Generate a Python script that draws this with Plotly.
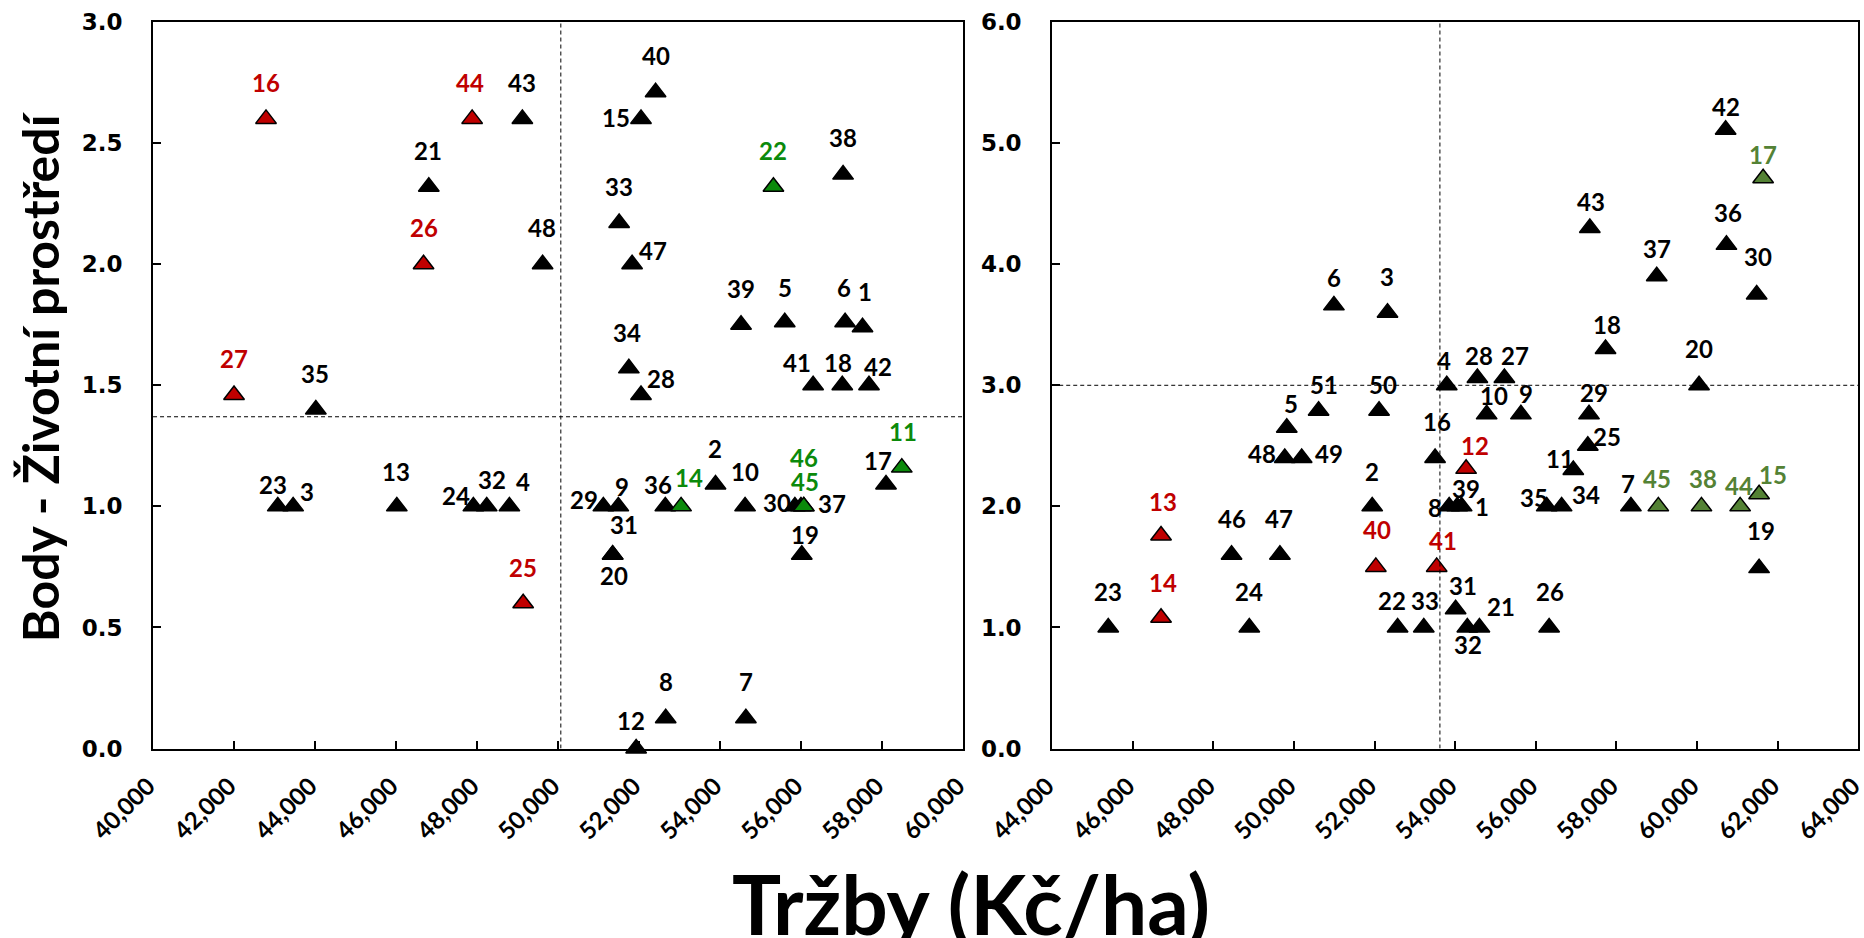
import plotly.graph_objects as go

# ---------------- DATA ----------------
# Left panel: Tržby (Kč/ha) vs Body - Životní prostředí
left_ids = [16, 44, 43, 21, 26, 48, 27, 35, 40, 15, 22, 38, 33, 47, 39, 5, 6, 1, 34, 28, 41, 18, 42,
            23, 3, 13, 24, 32, 4, 25, 29, 9, 31, 20, 36, 14, 2, 10, 30, 37, 45, 46, 19, 17, 11, 8, 7, 12]
left_x = [42790, 47880, 49120, 46810, 46680, 49620, 42000, 44020, 52410, 52050, 55320, 57040, 51510, 51830,
          54520, 55600, 57090, 57520, 51750, 52050, 56300, 57020, 57680,
          43080, 43460, 46020, 47910, 48240, 48800, 49140, 51120, 51490, 51350, 51350, 52650, 53040, 53890,
          54620, 55850, 56000, 56070, 56070, 56020, 58100, 58490, 52660, 54640, 51930]
left_y = [2.60, 2.60, 2.60, 2.32, 2.00, 2.00, 1.46, 1.40, 2.71, 2.60, 2.32, 2.37, 2.17, 2.00,
          1.75, 1.76, 1.76, 1.74, 1.57, 1.46, 1.50, 1.50, 1.50,
          1.00, 1.00, 1.00, 1.00, 1.00, 1.00, 0.60, 1.00, 1.00, 0.80, 0.80, 1.00, 1.00, 1.09,
          1.00, 1.00, 1.00, 1.00, 1.00, 0.80, 1.09, 1.16, 0.125, 0.125, 0.00]
left_group = ["r", "r", "k", "k", "r", "k", "r", "k", "k", "k", "g", "k", "k", "k",
              "k", "k", "k", "k", "k", "k", "k", "k", "k",
              "k", "k", "k", "k", "k", "k", "r", "k", "k", "k", "k", "k", "g", "k",
              "k", "k", "k", "g", "g", "k", "k", "g", "k", "k", "k"]
left_ref_x = 50070
left_ref_y = 1.37

# Right panel
right_ids = [6, 3, 51, 50, 5, 48, 49, 2, 40, 13, 14, 46, 47, 23, 24, 22, 33, 4, 28, 27, 42, 17, 43, 36,
             37, 30, 18, 20, 10, 9, 29, 16, 12, 25, 11, 8, 39, 1, 35, 34, 7, 45, 38, 44, 15, 19, 41,
             31, 32, 21, 26]
right_x = [50990, 52320, 50610, 52110, 49820, 49770, 50190, 51940, 52030, 46700, 46700, 48450, 49650,
           45390, 48890, 52570, 53220, 53790, 54550, 55220, 60710, 61640, 57340, 60730,
           59000, 61480, 57730, 60050, 54780, 55630, 57320, 53500, 54270, 57290, 56930, 53850, 54050,
           54160, 56270, 56640, 58360, 59040, 60110, 61070, 61540, 61540, 53540,
           54010, 54300, 54600, 56330]
right_y = [3.66, 3.60, 2.79, 2.79, 2.65, 2.40, 2.40, 2.00, 1.50, 1.76, 1.08, 1.60, 1.60,
           1.00, 1.00, 1.00, 1.00, 3.00, 3.06, 3.06, 5.11, 4.71, 4.30, 4.16,
           3.90, 3.75, 3.30, 3.00, 2.76, 2.76, 2.76, 2.40, 2.31, 2.50, 2.30, 2.00, 2.00,
           2.00, 2.00, 2.00, 2.00, 2.00, 2.00, 2.00, 2.10, 1.49, 1.50,
           1.15, 1.00, 1.00, 1.00]
right_group = ["k", "k", "k", "k", "k", "k", "k", "k", "r", "r", "r", "k", "k",
               "k", "k", "k", "k", "k", "k", "k", "k", "g", "k", "k",
               "k", "k", "k", "k", "k", "k", "k", "k", "r", "k", "k", "k", "k",
               "k", "k", "k", "k", "g", "g", "g", "g", "k", "r",
               "k", "k", "k", "k"]
right_ref_x = 53620
right_ref_y = 3.0

left_xticks = list(range(40000, 60001, 2000))
right_xticks = list(range(44000, 64001, 2000))
left_yticks = [0, 0.5, 1.0, 1.5, 2.0, 2.5, 3.0]
right_yticks = [0, 1, 2, 3, 4, 5, 6]

x_title = "Tržby (Kč/ha)"
y_title = "Body - Životní prostředí"

# ---------------- STYLE (label offsets in px: dx right, dy down) ----------------
left_label_off = {
    16: (0, -36), 44: (-2, -36), 43: (0, -36), 21: (-1, -36), 26: (0, -37), 48: (-1, -37), 27: (0, -36),
    35: (-1, -36), 40: (0, -37), 15: (-25, -1), 22: (0, -36), 38: (0, -37), 33: (0, -37), 47: (21, -14),
    39: (0, -36), 5: (0, -35), 6: (-1, -35), 1: (2, -36), 34: (-2, -36), 28: (20, -16), 41: (-16, -23),
    18: (-4, -23), 42: (9, -19), 23: (-5, -22), 3: (14, -15), 13: (-1, -35), 24: (-17, -11), 32: (5, -27),
    4: (14, -25), 25: (0, -36), 29: (-19, -7), 9: (4, -20), 31: (11, -30), 20: (1, 21), 36: (-7, -22),
    14: (8, -29), 2: (-1, -36), 10: (0, -35), 30: (-18, -4), 37: (31, -3), 45: (1, -25), 46: (0, -49),
    19: (3, -20), 17: (-8, -24), 11: (1, -36), 8: (0, -37), 7: (0, -37), 12: (-5, -28),
}
right_label_off = {
    6: (0, -28), 3: (-1, -36), 51: (5, -26), 50: (4, -26), 5: (4, -24), 48: (-23, -4), 49: (27, -4),
    2: (0, -35), 40: (1, -37), 13: (2, -34), 14: (2, -35), 46: (0, -36), 47: (-1, -36), 23: (0, -36),
    24: (0, -36), 22: (-6, -27), 33: (1, -27), 4: (-3, -25), 28: (2, -23), 27: (11, -23), 42: (0, -23),
    17: (0, -24), 43: (1, -26), 36: (2, -32), 37: (0, -28), 30: (1, -38), 18: (1, -24), 20: (0, -37),
    10: (7, -19), 9: (5, -21), 29: (5, -22), 16: (2, -36), 12: (9, -23), 25: (19, -9), 11: (-13, -12),
    8: (-14, 1), 39: (9, -18), 1: (20, 0), 35: (-13, -9), 34: (24, -12), 7: (-3, -23), 45: (-1, -28),
    38: (2, -28), 44: (-1, -21), 15: (14, -20), 19: (2, -38), 41: (6, -26), 31: (7, -24), 32: (1, 17),
    21: (22, -21), 26: (1, -36),
}

fill_colors_left = {"k": "#000000", "r": "#C00000", "g": "#0B8A0B"}
text_colors_left = {"k": "#000000", "r": "#C00000", "g": "#0B8A0B"}
fill_colors_right = {"k": "#000000", "r": "#C00000", "g": "#548235"}
text_colors_right = {"k": "#000000", "r": "#C00000", "g": "#548235"}

LABEL_FONT = "Lato"
TICK_FONT = "DejaVu Sans"

fig = go.Figure()
annotations = []


def add_panel(ids, xs, ys, groups, offs, fills, tcols, xref, yref, xa, ya):
    for g in ["k", "r", "g"]:
        idx = [i for i, gg in enumerate(groups) if gg == g]
        if not idx:
            continue
        fig.add_trace(go.Scatter(
            x=[xs[i] for i in idx], y=[ys[i] for i in idx],
            mode="markers", xaxis=xa, yaxis=ya, showlegend=False, cliponaxis=False,
            marker=dict(symbol="triangle-up", size=18, color=fills[g],
                        line=dict(color="#000000", width=1.5)),
            hovertext=[str(ids[i]) for i in idx],
        ))
    for i, pid in enumerate(ids):
        dx, dy = offs.get(pid, (0, -36))
        annotations.append(dict(
            x=xs[i], y=ys[i], xref=xref, yref=yref, text=str(pid), showarrow=False,
            xshift=dx, yshift=-dy,
            font=dict(family=LABEL_FONT, size=24, color=tcols[groups[i]], weight="bold"),
        ))


add_panel(left_ids, left_x, left_y, left_group, left_label_off, fill_colors_left, text_colors_left,
          "x", "y", "x", "y")
add_panel(right_ids, right_x, right_y, right_group, right_label_off, fill_colors_right, text_colors_right,
          "x2", "y2", "x2", "y2")

dash_line = dict(color="#000000", width=1, dash="4px,3px")
shapes = [
    dict(type="line", xref="x", yref="y", x0=left_ref_x, x1=left_ref_x, y0=left_yticks[0], y1=left_yticks[-1],
         line=dash_line),
    dict(type="line", xref="x", yref="y", x0=left_xticks[0], x1=left_xticks[-1], y0=left_ref_y, y1=left_ref_y,
         line=dash_line),
    dict(type="line", xref="x2", yref="y2", x0=right_ref_x, x1=right_ref_x, y0=right_yticks[0],
         y1=right_yticks[-1], line=dash_line),
    dict(type="line", xref="x2", yref="y2", x0=right_xticks[0], x1=right_xticks[-1], y0=right_ref_y,
         y1=right_ref_y, line=dash_line),
]

annotations.append(dict(text=x_title, xref="paper", yref="paper", x=0.521, y=0.037, showarrow=False,
                        xanchor="center", yanchor="middle",
                        font=dict(family=LABEL_FONT, size=82, color="#000000", weight="bold")))
annotations.append(dict(text=y_title, xref="paper", yref="paper", x=0.0215, y=0.598, showarrow=False,
                        xanchor="center", yanchor="middle", textangle=-90,
                        font=dict(family=LABEL_FONT, size=50, color="#000000", weight="bold")))

xaxis_common = dict(showline=True, linecolor="#000000", linewidth=2, mirror=True, ticks="inside",
                    ticklen=8, tickwidth=2, tickcolor="#000000", showgrid=False, zeroline=False,
                    tickangle=-45, tickformat=",d", automargin=False, ticklabeloverflow="allow",
                    ticklabelshift=-5, ticklabelstandoff=12,
                    tickfont=dict(family=LABEL_FONT, size=24, color="#000000", weight="bold"))
yaxis_common = dict(showline=True, linecolor="#000000", linewidth=2, mirror=True, ticks="inside",
                    ticklen=8, tickwidth=2, tickcolor="#000000", showgrid=False, zeroline=False,
                    tickformat=".1f", ticklabelstandoff=24, automargin=False, ticklabeloverflow="allow",
                    tickfont=dict(family=TICK_FONT, size=23, color="#000000", weight="bold"))

ydom = [0.202, 0.9765]
fig.update_layout(
    width=1864, height=938, margin=dict(l=0, r=0, t=0, b=0, autoexpand=False),
    paper_bgcolor="#FFFFFF", plot_bgcolor="#FFFFFF",
    xaxis=dict(xaxis_common, domain=[0.0821, 0.5166], range=[left_xticks[0], left_xticks[-1]],
               tickvals=left_xticks, anchor="y"),
    yaxis=dict(yaxis_common, domain=ydom, range=[left_yticks[0], left_yticks[-1]], tickvals=left_yticks,
               anchor="x"),
    xaxis2=dict(xaxis_common, domain=[0.5645, 0.9969], range=[right_xticks[0], right_xticks[-1]],
                tickvals=right_xticks, anchor="y2"),
    yaxis2=dict(yaxis_common, domain=ydom, range=[right_yticks[0], right_yticks[-1]], tickvals=right_yticks,
                anchor="x2"),
    shapes=shapes, annotations=annotations,
)

fig.write_html("out.html")
